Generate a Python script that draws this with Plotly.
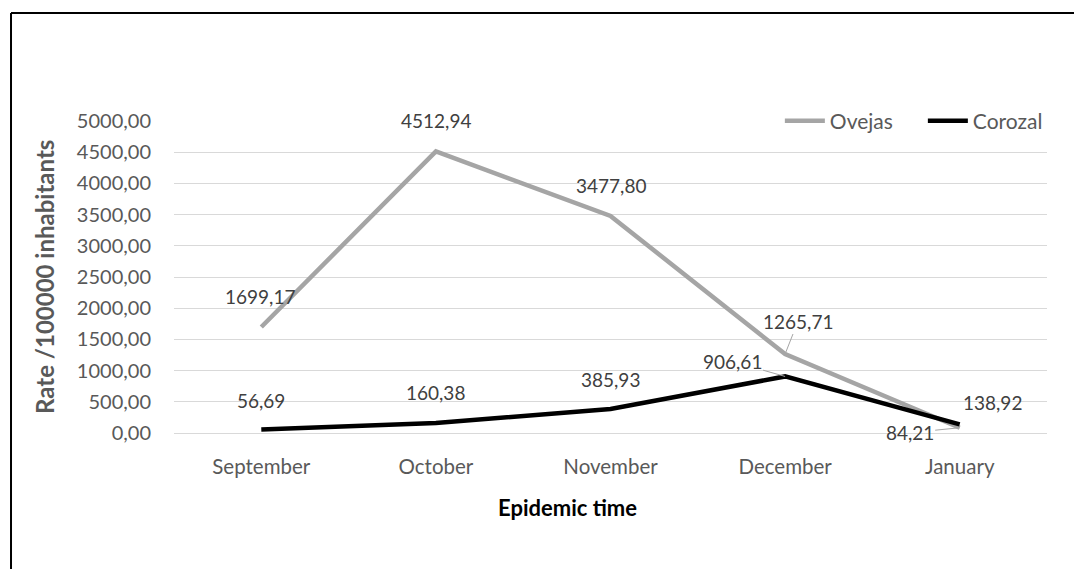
import plotly.graph_objects as go

# Epidemic months and incidence rates per 100000 inhabitants
months = ["September", "October", "November", "December", "January"]
ovejas = [1699.17, 4512.94, 3477.80, 1265.71, 84.21]
corozal = [56.69, 160.38, 385.93, 906.61, 138.92]
y_ticks = [0, 500, 1000, 1500, 2000, 2500, 3000, 3500, 4000, 4500, 5000]

FONT = "Lato"
TEXT = "#595959"
LABEL = "#404040"
GREY = "#a5a5a5"


def fmt(v):
    return f"{v:.2f}".replace(".", ",")


fig = go.Figure()
fig.add_trace(go.Scatter(x=months, y=ovejas, name="Ovejas", mode="lines",
                         line=dict(color=GREY, width=4.5)))
fig.add_trace(go.Scatter(x=months, y=corozal, name="Corozal", mode="lines",
                         line=dict(color="#000000", width=4.5)))

# Data label offsets (pixels) and whether a leader line connects them
ov_off = [(-1, -30, False), (0, -31, False), (0, -30, False), (13, -33, True), (-50, 5, True)]
co_off = [(0, -29, False), (0, -30, False), (0, -29, False), (-53, -15, True), (33, -22, False)]

annotations = []
for vals, offs in ((ovejas, ov_off), (corozal, co_off)):
    for m, v, (dx, dy, leader) in zip(months, vals, offs):
        if leader:
            annotations.append(dict(x=m, y=v, xref="x", yref="y", text=fmt(v),
                                    showarrow=True, arrowhead=0, arrowwidth=1,
                                    arrowcolor=GREY, ax=dx, ay=dy,
                                    font=dict(family=FONT, size=19, color=LABEL)))
        else:
            annotations.append(dict(x=m, y=v, xref="x", yref="y", text=fmt(v),
                                    showarrow=False, xshift=dx, yshift=-dy,
                                    font=dict(family=FONT, size=19, color=LABEL)))

annotations.append(dict(x=-0.149, y=0.5, xref="paper", yref="paper",
                        text="<b>Rate /100000 inhabitants</b>", textangle=-90,
                        showarrow=False, xanchor="center", yanchor="middle",
                        font=dict(family=FONT, size=24, color=TEXT)))
annotations.append(dict(x=0.4502, y=-0.240, xref="paper", yref="paper",
                        text="<b>Epidemic time</b>", showarrow=False,
                        xanchor="center", yanchor="middle",
                        font=dict(family=FONT, size=22, color="#000000")))

fig.update_layout(
    width=1074, height=569,
    margin=dict(l=174, r=27, t=121, b=136, autoexpand=False),
    paper_bgcolor="white", plot_bgcolor="white",
    font=dict(family=FONT, color=TEXT, size=20),
    showlegend=True,
    legend=dict(orientation="h", x=0.694, xanchor="left", y=1.0, yanchor="middle",
                bgcolor="white", font=dict(family=FONT, size=21, color=TEXT),
                itemwidth=40, entrywidth=88, tracegroupgap=0),
    annotations=annotations,
    shapes=[
        dict(type="line", xref="paper", yref="paper", x0=-0.1867, x1=-0.1867,
             y0=-0.6, y1=1.3462, line=dict(color="#000000", width=2)),
        dict(type="line", xref="paper", yref="paper", x0=-0.1867, x1=1.2,
             y0=1.3462, y1=1.3462, line=dict(color="#000000", width=2)),
    ],
)
fig.update_xaxes(type="category", range=[-0.5, 4.5], showgrid=False, showline=False,
                 ticks="", tickfont=dict(family=FONT, size=20.5, color=TEXT), ticklabelstandoff=19)
fig.update_yaxes(range=[0, 5000], tickvals=y_ticks, ticktext=[fmt(v) for v in y_ticks],
                 showgrid=True, gridcolor="#d9d9d9", gridwidth=1.3,
                 zeroline=True, zerolinecolor="#d9d9d9", zerolinewidth=1.3,
                 showline=False, ticks="", tickfont=dict(family=FONT, size=20, color=TEXT),
                 ticklabelstandoff=22)

fig.write_html("out.html")
